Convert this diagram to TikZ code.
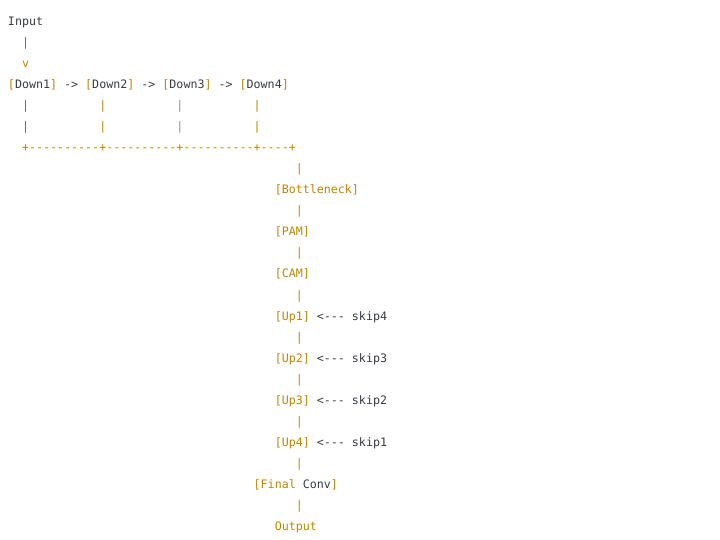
\documentclass[tikz,border=0pt]{standalone}
\usepackage{fontspec}
\setmonofont{DejaVu Sans Mono}
\usetikzlibrary{positioning}
\definecolor{codeInk}{RGB}{56,58,66}
\definecolor{codeGold}{RGB}{193,132,1}
\definecolor{codeGreen}{RGB}{70,130,70}
\definecolor{codeSlate}{RGB}{125,140,200}
\newcommand{\brk}[1]{{\color{codeGold}[}#1{\color{codeGold}]}}
\tikzset{
  codetxt/.style={anchor=base west,inner sep=0pt,outer sep=0pt,text=codeInk,font=\ttfamily\fontsize{11.66}{14}\selectfont},
  goldtxt/.style={codetxt,text=codeGold},
}

\begin{document}
\begin{tikzpicture}[x=7.02pt,y=-21.04pt]
\path[use as bounding box] (0pt,0pt) rectangle (720pt,-539pt);
\begin{scope}[shift={(8pt,-25.5pt)}]
% encoder
\node[codetxt] (input) at (0,0) {Input};
\node[codetxt,text=codeGreen] (inbar) at (2,1) {|};
\node[goldtxt] (inarrow) at (2,2) {v};
\node[codetxt] (down1) at (0,3) {\brk{Down1}};
\node[codetxt] (arr12) at (8,3) {->};
\node[codetxt] (down2) at (11,3) {\brk{Down2}};
\node[codetxt] (arr23) at (19,3) {->};
\node[codetxt] (down3) at (22,3) {\brk{Down3}};
\node[codetxt] (arr34) at (30,3) {->};
\node[codetxt] (down4) at (33,3) {\brk{Down4}};
\foreach \r in {4,5}{
  \node[codetxt,text=codeGreen] (bar1\r) at (2,\r) {|};
  \node[goldtxt] (bar2\r) at (13,\r) {|};
  \node[codetxt,text=codeSlate] (bar3\r) at (24,\r) {|};
  \node[goldtxt] (bar4\r) at (35,\r) {|};
}
\node[goldtxt] (collect) at (2,6) {+----------+----------+----------+----+};

% bottleneck and decoder
\foreach \r in {7,9,...,23}
  \node[goldtxt] (trunk\r) at (41,\r) {|};
\node[goldtxt] (bottleneck) at (38,8) {[Bottleneck]};
\node[goldtxt] (pam) at (38,10) {[PAM]};
\node[goldtxt] (cam) at (38,12) {[CAM]};
\node[goldtxt] (up1) at (38,14) {[Up1]};
\node[codetxt] (skip4) at (44,14) {<--- skip4};
\node[goldtxt] (up2) at (38,16) {[Up2]};
\node[codetxt] (skip3) at (44,16) {<--- skip3};
\node[goldtxt] (up3) at (38,18) {[Up3]};
\node[codetxt] (skip2) at (44,18) {<--- skip2};
\node[goldtxt] (up4) at (38,20) {[Up4]};
\node[codetxt] (skip1) at (44,20) {<--- skip1};
\node[goldtxt] (finalconv) at (35,22) {[Final {\color{codeInk}Conv}]};
\node[goldtxt] (output) at (38,24) {Output};
\end{scope}
\end{tikzpicture}
\end{document}
